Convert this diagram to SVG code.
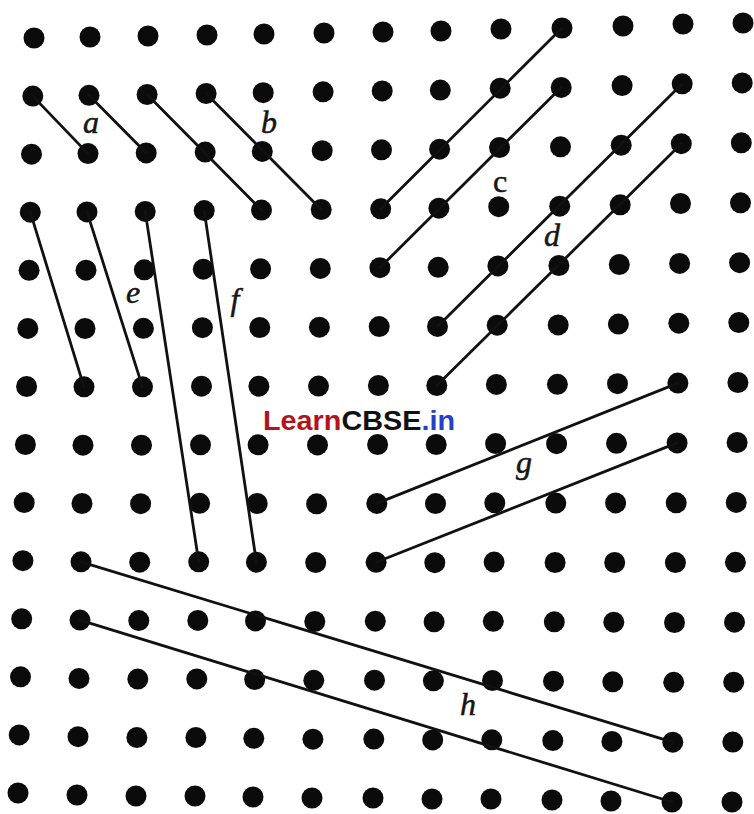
<svg xmlns="http://www.w3.org/2000/svg" xmlns:xlink="http://www.w3.org/1999/xlink" width="754" height="814" viewBox="0 0 754 814">
<style>
.bg{fill:#ffffff}
.dots use{fill:#0b0b0b}
.conn line{stroke:#111111;stroke-width:2.8;stroke-linecap:round}
.lbl{font-family:"Liberation Serif","Times New Roman",serif;font-style:italic;font-size:32px;fill:#151515;text-anchor:middle;stroke:#151515;stroke-width:0.5}
.wm{font-family:"Liberation Sans",Arial,sans-serif;font-weight:bold;font-size:28.5px}
</style>
<defs><circle id="dot" cx="0" cy="0" r="10.5"/></defs>
<rect class="bg" x="0" y="0" width="754" height="814"/>
<g id="dots" class="dots">
<use href="#dot" x="34" y="38"/><use href="#dot" x="32.8" y="96.1"/><use href="#dot" x="31.5" y="154.2"/><use href="#dot" x="30.3" y="212.2"/><use href="#dot" x="29.1" y="270.3"/><use href="#dot" x="27.8" y="328.4"/><use href="#dot" x="26.6" y="386.5"/><use href="#dot" x="25.4" y="444.5"/><use href="#dot" x="24.2" y="502.6"/><use href="#dot" x="22.9" y="560.7"/><use href="#dot" x="21.7" y="618.8"/><use href="#dot" x="20.5" y="676.8"/><use href="#dot" x="19.2" y="734.9"/><use href="#dot" x="18" y="793"/>
<use href="#dot" x="90" y="37"/><use href="#dot" x="89" y="95.3"/><use href="#dot" x="88" y="153.6"/><use href="#dot" x="87" y="211.9"/><use href="#dot" x="86" y="270.2"/><use href="#dot" x="85" y="328.5"/><use href="#dot" x="84" y="386.8"/><use href="#dot" x="83" y="445.2"/><use href="#dot" x="82" y="503.5"/><use href="#dot" x="81" y="561.8"/><use href="#dot" x="80" y="620.1"/><use href="#dot" x="79" y="678.4"/><use href="#dot" x="78" y="736.7"/><use href="#dot" x="77" y="795"/>
<use href="#dot" x="148" y="36"/><use href="#dot" x="147.1" y="94.5"/><use href="#dot" x="146.2" y="152.9"/><use href="#dot" x="145.2" y="211.4"/><use href="#dot" x="144.3" y="269.8"/><use href="#dot" x="143.4" y="328.3"/><use href="#dot" x="142.5" y="386.8"/><use href="#dot" x="141.5" y="445.2"/><use href="#dot" x="140.6" y="503.7"/><use href="#dot" x="139.7" y="562.2"/><use href="#dot" x="138.8" y="620.6"/><use href="#dot" x="137.8" y="679.1"/><use href="#dot" x="136.9" y="737.5"/><use href="#dot" x="136" y="796"/>
<use href="#dot" x="207" y="35"/><use href="#dot" x="206.1" y="93.5"/><use href="#dot" x="205.2" y="152.1"/><use href="#dot" x="204.2" y="210.6"/><use href="#dot" x="203.3" y="269.2"/><use href="#dot" x="202.4" y="327.7"/><use href="#dot" x="201.5" y="386.2"/><use href="#dot" x="200.5" y="444.8"/><use href="#dot" x="199.6" y="503.3"/><use href="#dot" x="198.7" y="561.8"/><use href="#dot" x="197.8" y="620.4"/><use href="#dot" x="196.8" y="678.9"/><use href="#dot" x="195.9" y="737.5"/><use href="#dot" x="195" y="796"/>
<use href="#dot" x="264" y="34"/><use href="#dot" x="263.2" y="92.7"/><use href="#dot" x="262.3" y="151.4"/><use href="#dot" x="261.5" y="210.1"/><use href="#dot" x="260.6" y="268.8"/><use href="#dot" x="259.8" y="327.5"/><use href="#dot" x="258.9" y="386.2"/><use href="#dot" x="258.1" y="444.8"/><use href="#dot" x="257.2" y="503.5"/><use href="#dot" x="256.4" y="562.2"/><use href="#dot" x="255.5" y="620.9"/><use href="#dot" x="254.7" y="679.6"/><use href="#dot" x="253.8" y="738.3"/><use href="#dot" x="253" y="797"/>
<use href="#dot" x="324" y="33"/><use href="#dot" x="323.1" y="91.8"/><use href="#dot" x="322.2" y="150.7"/><use href="#dot" x="321.2" y="209.5"/><use href="#dot" x="320.3" y="268.4"/><use href="#dot" x="319.4" y="327.2"/><use href="#dot" x="318.5" y="386.1"/><use href="#dot" x="317.5" y="444.9"/><use href="#dot" x="316.6" y="503.8"/><use href="#dot" x="315.7" y="562.6"/><use href="#dot" x="314.8" y="621.5"/><use href="#dot" x="313.8" y="680.3"/><use href="#dot" x="312.9" y="739.2"/><use href="#dot" x="312" y="798"/>
<use href="#dot" x="383" y="32"/><use href="#dot" x="382.2" y="90.9"/><use href="#dot" x="381.5" y="149.8"/><use href="#dot" x="380.7" y="208.8"/><use href="#dot" x="379.9" y="267.7"/><use href="#dot" x="379.2" y="326.6"/><use href="#dot" x="378.4" y="385.5"/><use href="#dot" x="377.6" y="444.5"/><use href="#dot" x="376.8" y="503.4"/><use href="#dot" x="376.1" y="562.3"/><use href="#dot" x="375.3" y="621.2"/><use href="#dot" x="374.5" y="680.2"/><use href="#dot" x="373.8" y="739.1"/><use href="#dot" x="373" y="798"/>
<use href="#dot" x="441" y="31"/><use href="#dot" x="440.3" y="90.1"/><use href="#dot" x="439.6" y="149.2"/><use href="#dot" x="438.9" y="208.2"/><use href="#dot" x="438.2" y="267.3"/><use href="#dot" x="437.5" y="326.4"/><use href="#dot" x="436.8" y="385.5"/><use href="#dot" x="436.2" y="444.5"/><use href="#dot" x="435.5" y="503.6"/><use href="#dot" x="434.8" y="562.7"/><use href="#dot" x="434.1" y="621.8"/><use href="#dot" x="433.4" y="680.8"/><use href="#dot" x="432.7" y="739.9"/><use href="#dot" x="432" y="799"/>
<use href="#dot" x="501" y="29"/><use href="#dot" x="500.2" y="88.2"/><use href="#dot" x="499.5" y="147.5"/><use href="#dot" x="498.7" y="206.7"/><use href="#dot" x="497.9" y="265.9"/><use href="#dot" x="497.2" y="325.2"/><use href="#dot" x="496.4" y="384.4"/><use href="#dot" x="495.6" y="443.6"/><use href="#dot" x="494.8" y="502.8"/><use href="#dot" x="494.1" y="562.1"/><use href="#dot" x="493.3" y="621.3"/><use href="#dot" x="492.5" y="680.5"/><use href="#dot" x="491.8" y="739.8"/><use href="#dot" x="491" y="799"/>
<use href="#dot" x="562" y="28"/><use href="#dot" x="561.2" y="87.4"/><use href="#dot" x="560.5" y="146.8"/><use href="#dot" x="559.7" y="206.2"/><use href="#dot" x="558.9" y="265.5"/><use href="#dot" x="558.2" y="324.9"/><use href="#dot" x="557.4" y="384.3"/><use href="#dot" x="556.6" y="443.7"/><use href="#dot" x="555.8" y="503.1"/><use href="#dot" x="555.1" y="562.5"/><use href="#dot" x="554.3" y="621.8"/><use href="#dot" x="553.5" y="681.2"/><use href="#dot" x="552.8" y="740.6"/><use href="#dot" x="552" y="800"/>
<use href="#dot" x="623" y="26"/><use href="#dot" x="622.1" y="85.6"/><use href="#dot" x="621.2" y="145.2"/><use href="#dot" x="620.2" y="204.8"/><use href="#dot" x="619.3" y="264.5"/><use href="#dot" x="618.4" y="324.1"/><use href="#dot" x="617.5" y="383.7"/><use href="#dot" x="616.5" y="443.3"/><use href="#dot" x="615.6" y="502.9"/><use href="#dot" x="614.7" y="562.5"/><use href="#dot" x="613.8" y="622.2"/><use href="#dot" x="612.8" y="681.8"/><use href="#dot" x="611.9" y="741.4"/><use href="#dot" x="611" y="801"/>
<use href="#dot" x="683" y="24"/><use href="#dot" x="682.2" y="83.8"/><use href="#dot" x="681.3" y="143.7"/><use href="#dot" x="680.5" y="203.5"/><use href="#dot" x="679.6" y="263.4"/><use href="#dot" x="678.8" y="323.2"/><use href="#dot" x="677.9" y="383.1"/><use href="#dot" x="677.1" y="442.9"/><use href="#dot" x="676.2" y="502.8"/><use href="#dot" x="675.4" y="562.6"/><use href="#dot" x="674.5" y="622.5"/><use href="#dot" x="673.7" y="682.3"/><use href="#dot" x="672.8" y="742.2"/><use href="#dot" x="672" y="802"/>
<use href="#dot" x="743" y="23"/><use href="#dot" x="742.2" y="82.9"/><use href="#dot" x="741.3" y="142.8"/><use href="#dot" x="740.5" y="202.8"/><use href="#dot" x="739.6" y="262.7"/><use href="#dot" x="738.8" y="322.6"/><use href="#dot" x="737.9" y="382.5"/><use href="#dot" x="737.1" y="442.5"/><use href="#dot" x="736.2" y="502.4"/><use href="#dot" x="735.4" y="562.3"/><use href="#dot" x="734.5" y="622.2"/><use href="#dot" x="733.7" y="682.2"/><use href="#dot" x="732.8" y="742.1"/><use href="#dot" x="732" y="802"/>
</g>
<g id="connectors" class="conn">
<line id="a1" x1="32.8" y1="96.1" x2="88" y2="153.6"/>
<line id="a2" x1="89" y1="95.3" x2="146.2" y2="152.9"/>
<line id="b1" x1="147.1" y1="94.5" x2="261.5" y2="210.1"/>
<line id="b2" x1="206.1" y1="93.5" x2="321.2" y2="209.5"/>
<line id="c1" x1="562" y1="28" x2="380.7" y2="208.8"/>
<line id="c2" x1="561.2" y1="87.4" x2="379.9" y2="267.7"/>
<line id="d1" x1="682.2" y1="83.8" x2="437.5" y2="326.4"/>
<line id="d2" x1="681.3" y1="143.7" x2="436.8" y2="385.5"/>
<line id="e1" x1="30.3" y1="212.2" x2="84" y2="386.8"/>
<line id="e2" x1="87" y1="211.9" x2="142.5" y2="386.8"/>
<line id="f1" x1="145.2" y1="211.4" x2="198.7" y2="561.8"/>
<line id="f2" x1="204.2" y1="210.6" x2="256.4" y2="562.2"/>
<line id="g1" x1="677.9" y1="383.1" x2="376.8" y2="503.4"/>
<line id="g2" x1="677.1" y1="442.9" x2="376.1" y2="562.3"/>
<line id="h1" x1="81" y1="561.8" x2="672.8" y2="742.2"/>
<line id="h2" x1="80" y1="620.1" x2="672" y2="802"/>
</g>
<g id="labels">
<text class="lbl" x="91" y="133">a</text>
<text class="lbl" x="269" y="133">b</text>
<text class="lbl" x="500" y="192" style="font-style:normal">c</text>
<text class="lbl" x="552" y="246">d</text>
<text class="lbl" x="133" y="303">e</text>
<text class="lbl" x="235" y="310">f</text>
<text class="lbl" x="524" y="473">g</text>
<text class="lbl" x="468" y="715">h</text>
</g>
<g id="watermark">
<text class="wm" x="263" y="430" textLength="192" lengthAdjust="spacingAndGlyphs"><tspan fill="#b3141c">Learn</tspan><tspan fill="#111111">CBSE</tspan><tspan fill="#2342c8">.in</tspan></text>
</g>
</svg>
